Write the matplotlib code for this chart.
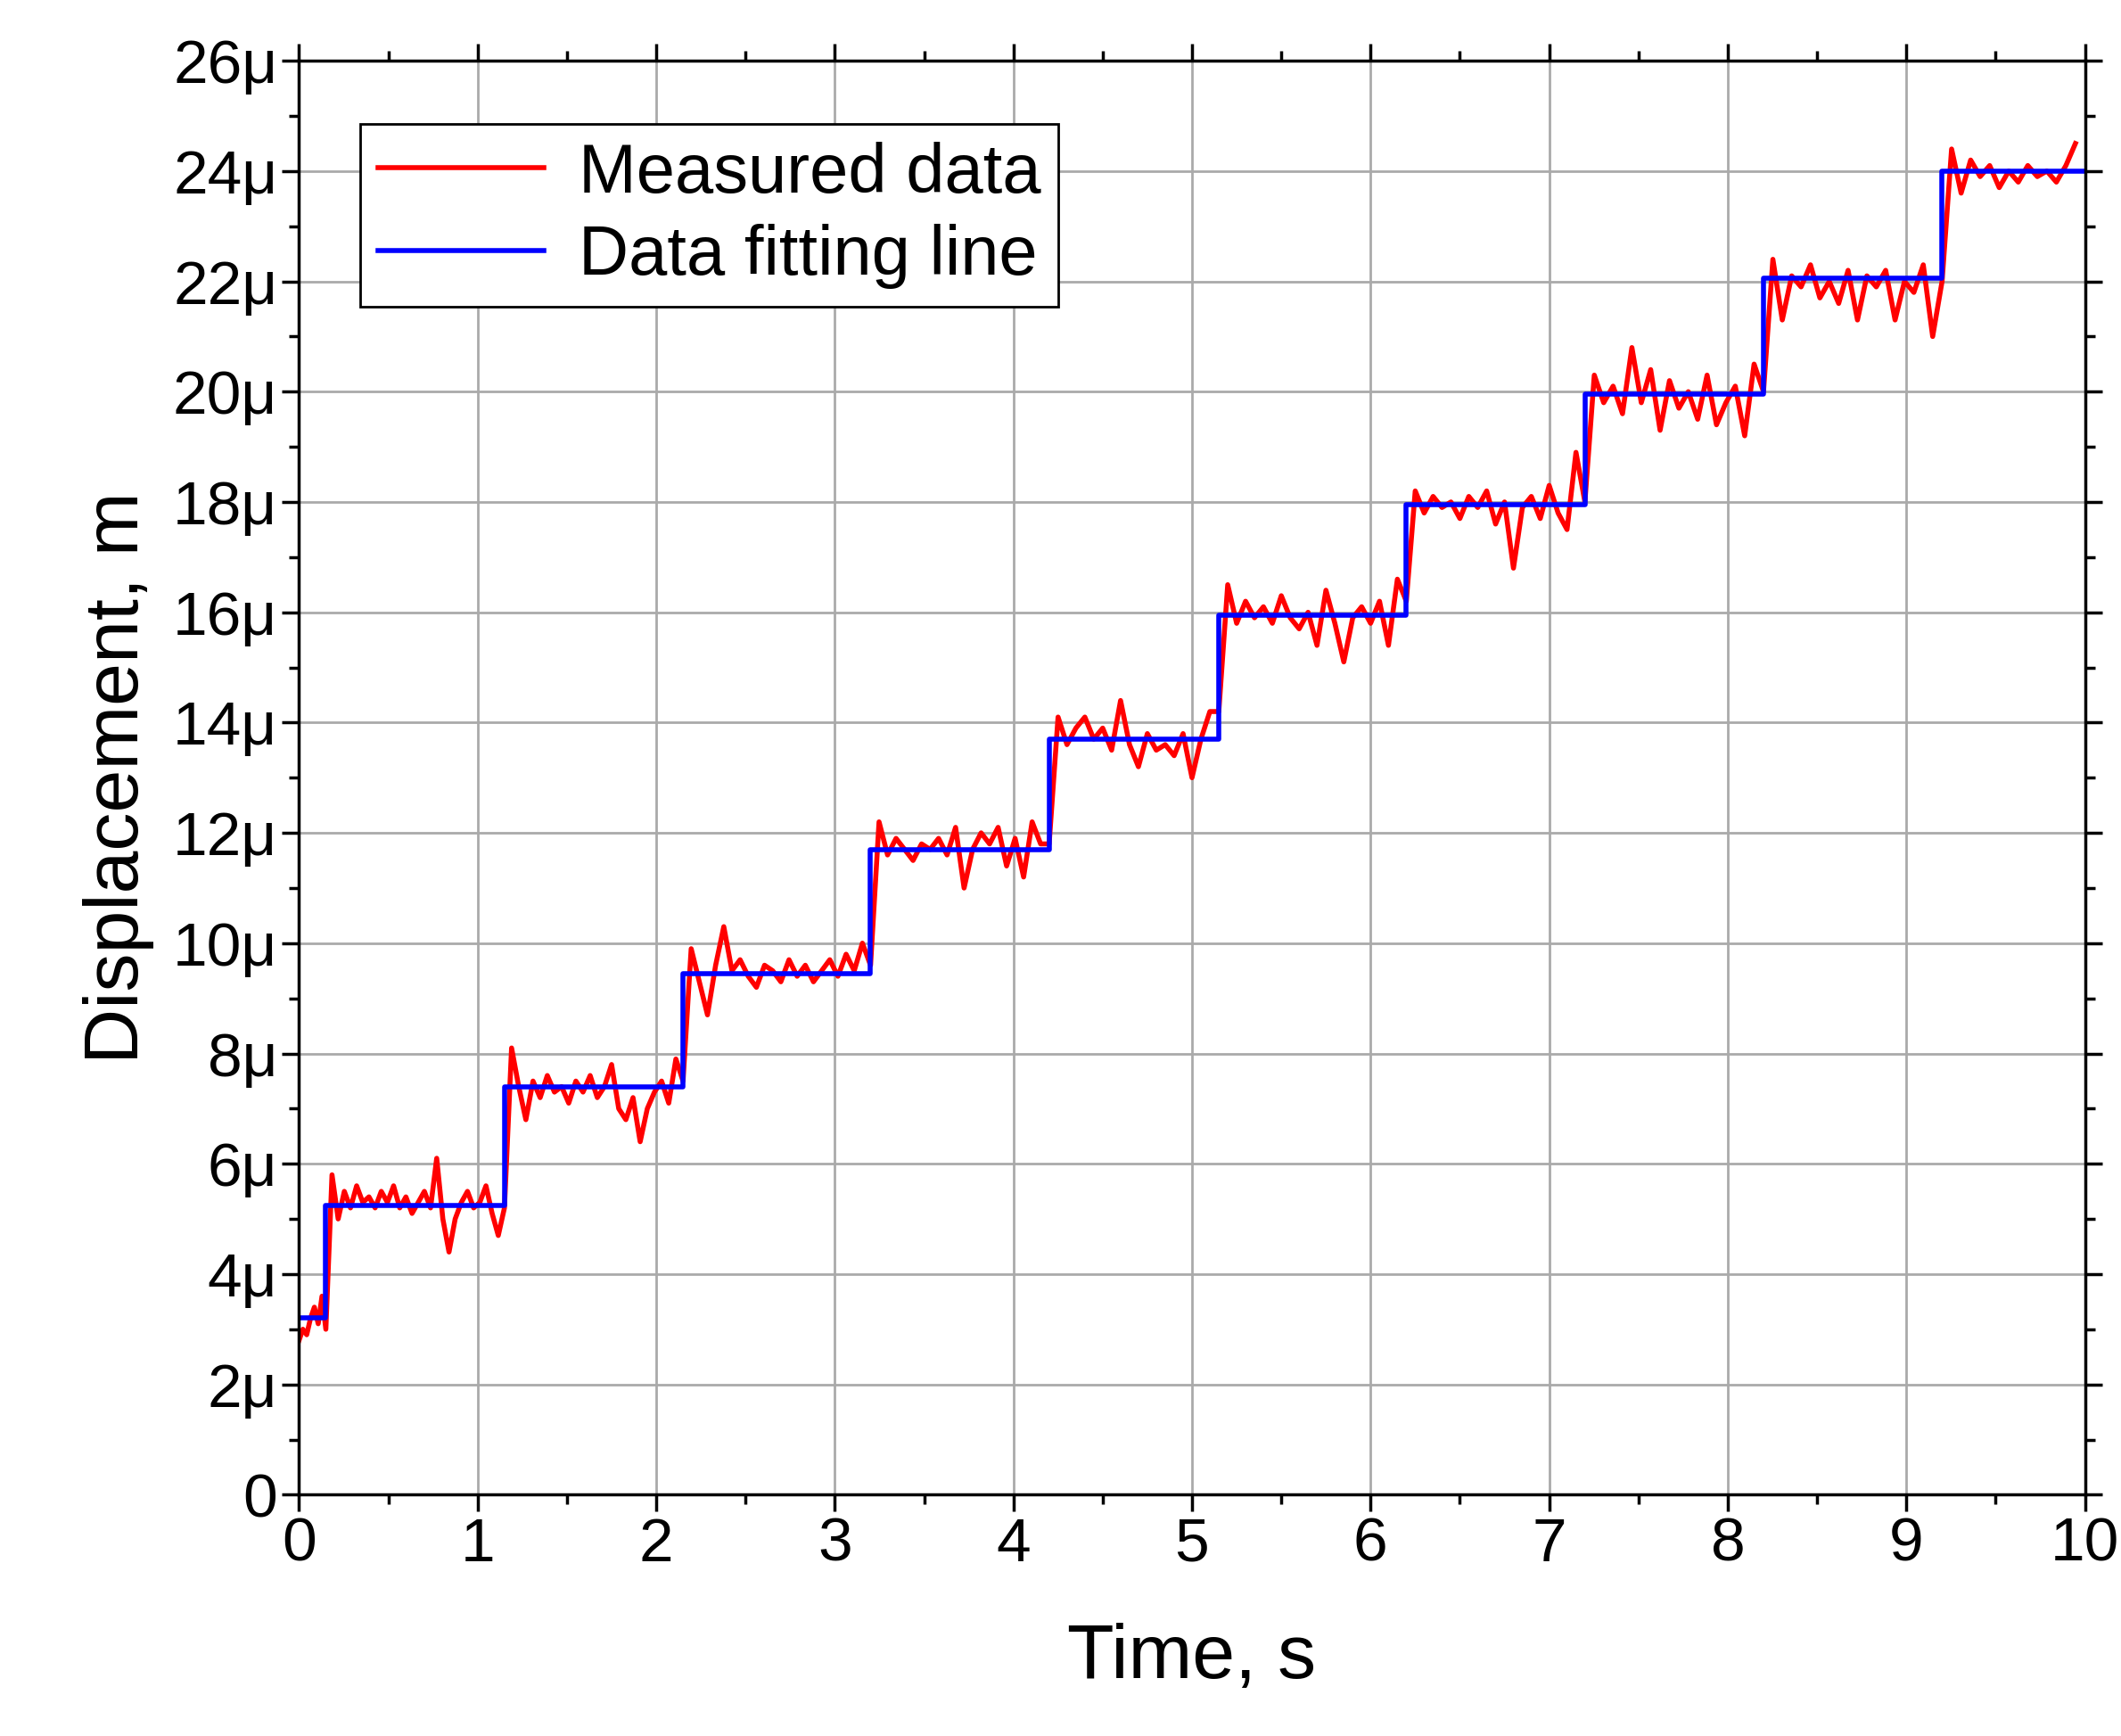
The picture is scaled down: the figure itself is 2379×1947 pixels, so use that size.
import numpy as np
import matplotlib.pyplot as plt
from matplotlib.ticker import MultipleLocator, FuncFormatter

plt.rcParams['font.family'] = ['Liberation Sans', 'DejaVu Sans']

# step fit (s, um)
fit_t = [0, 0.15, 1.15, 2.15, 3.2, 4.2, 5.15, 6.2, 7.2, 8.2, 9.2, 10.0]
fit_y = [3.2, 5.25, 7.4, 9.45, 11.7, 13.7, 15.95, 17.95, 19.95, 22.05, 24.0]

# measured data read per segment (um)
seg_bounds = fit_t
seg_vals = [
    [2.8, 3.0, 2.9, 3.2, 3.4, 3.1, 3.6],
    [3.0, 5.8, 5.0, 5.5, 5.2, 5.6, 5.3, 5.4, 5.2, 5.5, 5.3, 5.6, 5.2, 5.4, 5.1, 5.3, 5.5, 5.2, 6.1, 5.0,
     4.4, 5.0, 5.3, 5.5, 5.2, 5.3, 5.6, 5.1, 4.7],
    [5.2, 8.1, 7.4, 6.8, 7.5, 7.2, 7.6, 7.3, 7.4, 7.1, 7.5, 7.3, 7.6, 7.2, 7.4, 7.8, 7.0, 6.8, 7.2, 6.4,
     7.0, 7.3, 7.5, 7.1, 7.9],
    [7.5, 9.9, 9.3, 8.7, 9.6, 10.3, 9.5, 9.7, 9.4, 9.2, 9.6, 9.5, 9.3, 9.7, 9.4, 9.6, 9.3, 9.5, 9.7, 9.4,
     9.8, 9.5, 10.0],
    [9.6, 12.2, 11.6, 11.9, 11.7, 11.5, 11.8, 11.7, 11.9, 11.6, 12.1, 11.0, 11.7, 12.0, 11.8, 12.1, 11.4,
     11.9, 11.2, 12.2, 11.8],
    [11.8, 14.1, 13.6, 13.9, 14.1, 13.7, 13.9, 13.5, 14.4, 13.6, 13.2, 13.8, 13.5, 13.6, 13.4, 13.8, 13.0,
     13.7, 14.2],
    [14.2, 16.5, 15.8, 16.2, 15.9, 16.1, 15.8, 16.3, 15.9, 15.7, 16.0, 15.4, 16.4, 15.8, 15.1, 15.9, 16.1,
     15.8, 16.2, 15.4, 16.6],
    [16.2, 18.2, 17.8, 18.1, 17.9, 18.0, 17.7, 18.1, 17.9, 18.2, 17.6, 18.0, 16.8, 17.9, 18.1, 17.7, 18.3,
     17.8, 17.5, 18.9],
    [18.0, 20.3, 19.8, 20.1, 19.6, 20.8, 19.8, 20.4, 19.3, 20.2, 19.7, 20.0, 19.5, 20.3, 19.4, 19.8, 20.1,
     19.2, 20.5],
    [20.0, 22.4, 21.3, 22.1, 21.9, 22.3, 21.7, 22.0, 21.6, 22.2, 21.3, 22.1, 21.9, 22.2, 21.3, 22.0, 21.8,
     22.3, 21.0],
    [22.0, 24.4, 23.6, 24.2, 23.9, 24.1, 23.7, 24.0, 23.8, 24.1, 23.9, 24.0, 23.8, 24.1, 24.5],
]

meas_t, meas_y = [], []
for i, v in enumerate(seg_vals):
    meas_t.extend(np.linspace(seg_bounds[i], seg_bounds[i + 1], len(v), endpoint=False))
    meas_y.extend(v)

fig = plt.figure(figsize=(23.79, 19.47), dpi=100)
ax = fig.add_axes([0.141, 0.139, 0.842, 0.826])

ax.plot(meas_t, np.array(meas_y) * 1e-6, color='red', lw=4, label='Measured data')
ax.step(fit_t, np.array(fit_y + [fit_y[-1]]) * 1e-6, where='post', color='blue', lw=4,
        label='Data fitting line')

ax.set_xlim(0, 10)
ax.set_ylim(0, 26e-6)
ax.xaxis.set_major_locator(MultipleLocator(1))
ax.xaxis.set_minor_locator(MultipleLocator(0.5))
ax.yaxis.set_major_locator(MultipleLocator(2e-6))
ax.yaxis.set_minor_locator(MultipleLocator(1e-6))
ax.yaxis.set_major_formatter(FuncFormatter(lambda v, p: '0' if abs(v) < 1e-9 else '%dμ' % round(v * 1e6)))
ax.xaxis.set_major_formatter(FuncFormatter(lambda v, p: '%d' % round(v)))
ax.grid(True, which='major', color='#aaaaaa', lw=2)
ax.tick_params(which='both', direction='out', top=True, right=True, labelsize=50, width=2.5)
ax.tick_params(which='major', length=14)
ax.tick_params(which='minor', length=8)
for s in ax.spines.values():
    s.set_linewidth(2.5)

ax.set_xlabel('Time, s', fontsize=62, labelpad=40)
ax.set_ylabel('Displacement, m', fontsize=62, labelpad=15)

leg = ax.legend(loc='upper left', bbox_to_anchor=(0.015, 0.98), fontsize=56, fancybox=False,
                edgecolor='black', framealpha=1, handlelength=2.4, borderpad=0.25, labelspacing=0.25,
                handletextpad=0.5)
leg.get_frame().set_linewidth(2)

fig.savefig('out.png', dpi=100)
